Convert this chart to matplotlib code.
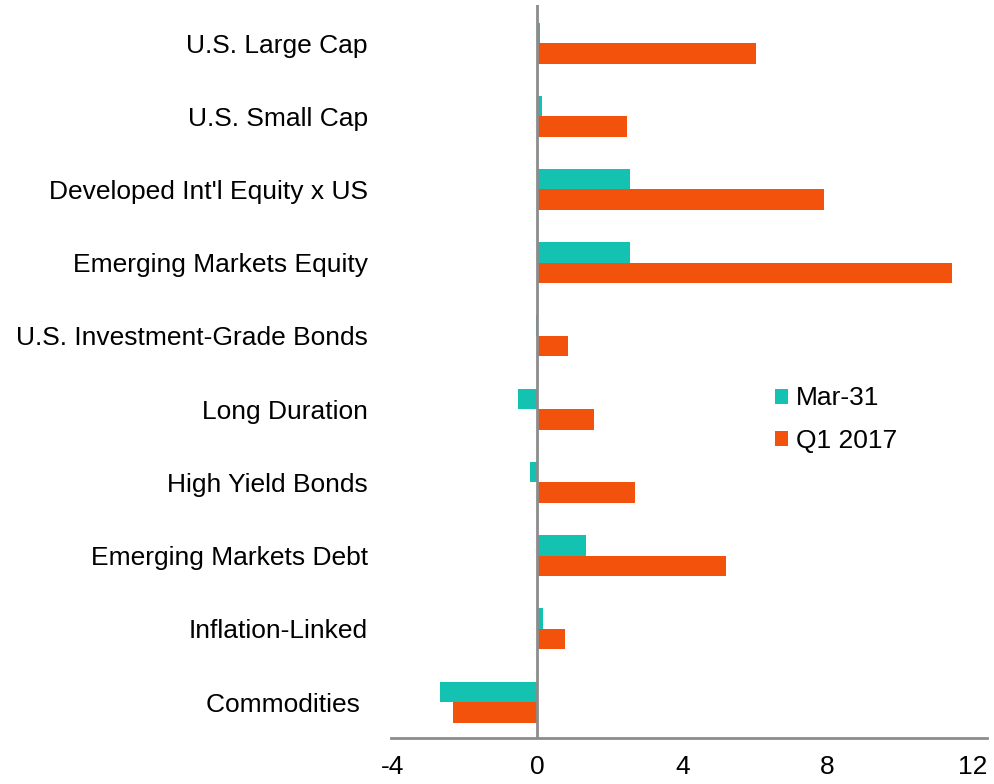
import numpy as np
import matplotlib.pyplot as plt

plt.rcParams['font.family'] = ['Liberation Sans', 'DejaVu Sans']

categories = ["U.S. Large Cap", "U.S. Small Cap", "Developed Int'l Equity x US",
              "Emerging Markets Equity", "U.S. Investment-Grade Bonds", "Long Duration",
              "High Yield Bonds", "Emerging Markets Debt", "Inflation-Linked", "Commodities "]
mar31 = [0.08, 0.13, 2.54, 2.54, -0.05, -0.55, -0.2, 1.35, 0.15, -2.68]
q1_2017 = [6.04, 2.48, 7.89, 11.42, 0.83, 1.57, 2.70, 5.21, 0.77, -2.34]
xticks = [-4, 0, 4, 8, 12]

teal = "#13C2B1"
orange = "#F2520C"

fig = plt.figure(figsize=(9.94, 7.84), dpi=100)
ax = fig.add_axes([0.393, 0.0587, 0.600, 0.935])

y = np.arange(len(categories))
h = 0.28
ax.barh(y - h / 2, mar31, height=h, color=teal, label="Mar-31")
ax.barh(y + h / 2, q1_2017, height=h, color=orange, label="Q1 2017")

ax.axvline(0, color="#8c8c8c", lw=2, zorder=3)

ax.set_xlim(-4.05, 12.4)
ax.set_ylim(9.49, -0.52)
ax.set_yticks(y)
ax.set_yticklabels(categories, fontsize=19)
ax.set_xticks(xticks)
ax.set_xticklabels([str(t) for t in xticks], fontsize=19)
ax.tick_params(axis="y", length=0, pad=16.5)
ax.tick_params(axis="x", length=0, pad=12)

for s in ["top", "right", "left"]:
    ax.spines[s].set_visible(False)
ax.spines["bottom"].set_color("#8c8c8c")
ax.spines["bottom"].set_linewidth(2)

ax.legend(loc="upper left", bbox_to_anchor=(0.627, 0.494), frameon=False, fontsize=19,
          handlelength=0.5, handleheight=0.5, handletextpad=0.3, labelspacing=0.7,
          borderaxespad=0)

fig.savefig("out.png", dpi=100)
